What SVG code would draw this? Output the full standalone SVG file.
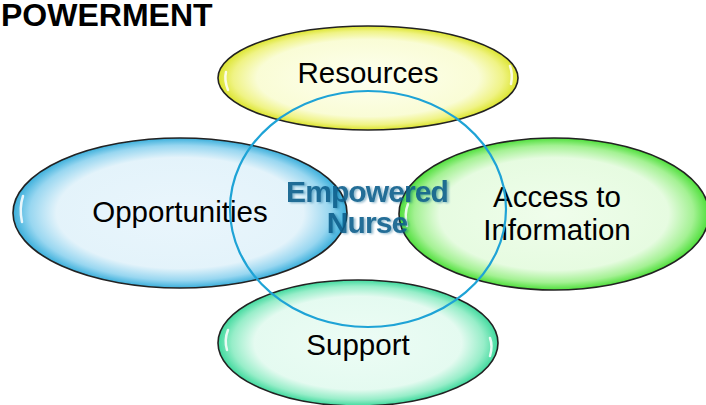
<svg xmlns="http://www.w3.org/2000/svg" width="706" height="405" viewBox="0 0 706 405">
  <style>
    .title { font-family: "Liberation Sans", Arial, sans-serif; font-weight: bold; font-size: 32px; fill: #000; }
    .label { font-family: "Liberation Sans", Arial, sans-serif; font-size: 29.5px; fill: #000; text-anchor: middle; }
    .core { font-family: "Liberation Sans", Arial, sans-serif; font-weight: bold; font-size: 30px; fill: #0b5e8c; text-anchor: middle; letter-spacing: -0.9px; }
    .oval { stroke: #222; stroke-width: 1.6; fill-opacity: 0.92; }
    .gloss { fill: none; stroke: #ffffff; stroke-width: 2.5; stroke-linecap: round; opacity: 0.85; }
    .ring { fill: none; stroke: #1ea3d6; stroke-width: 2.2; }
  </style>
  <defs>
    <radialGradient id="gYellow" cx="50%" cy="50%" r="50%">
      <stop offset="0" stop-color="#fdfff0"/>
      <stop offset="0.74" stop-color="#f9fcd2"/>
      <stop offset="0.9" stop-color="#eef27a"/>
      <stop offset="1" stop-color="#d9e21c"/>
    </radialGradient>
    <radialGradient id="gBlue" cx="50%" cy="50%" r="50%">
      <stop offset="0" stop-color="#e8f5fc"/>
      <stop offset="0.74" stop-color="#e1f2fa"/>
      <stop offset="0.9" stop-color="#8fd3ef"/>
      <stop offset="1" stop-color="#2aa8d8"/>
    </radialGradient>
    <radialGradient id="gGreen" cx="50%" cy="50%" r="50%">
      <stop offset="0" stop-color="#eefdea"/>
      <stop offset="0.74" stop-color="#e4fbde"/>
      <stop offset="0.9" stop-color="#9cf08a"/>
      <stop offset="1" stop-color="#3fdc2a"/>
    </radialGradient>
    <radialGradient id="gTeal" cx="50%" cy="50%" r="50%">
      <stop offset="0" stop-color="#ebfcf4"/>
      <stop offset="0.74" stop-color="#e2faef"/>
      <stop offset="0.9" stop-color="#8eecc4"/>
      <stop offset="1" stop-color="#2fd695"/>
    </radialGradient>
    <filter id="soft" x="-10%" y="-20%" width="120%" height="140%">
      <feGaussianBlur in="SourceAlpha" stdDeviation="0.8"/>
      <feOffset dx="1.5" dy="1" result="sh"/>
      <feFlood flood-color="#0b5e8c" flood-opacity="0.45"/>
      <feComposite in2="sh" operator="in"/>
      <feMerge><feMergeNode/><feMergeNode in="SourceGraphic"/></feMerge>
    </filter>
  </defs>

  <text class="title" x="1" y="26">POWERMENT</text>

  <g id="resources">
    <ellipse class="oval" cx="368" cy="78" rx="150" ry="52" fill="url(#gYellow)"/>
    <path class="gloss" d="M226 72 Q224 80 228 90"/>
    <path class="gloss" d="M510 66 Q513 74 511 84"/>
    <text class="label" x="368" y="83">Resources</text>
  </g>

  <g id="opportunities">
    <ellipse class="oval" cx="180" cy="213" rx="167" ry="75" fill="url(#gBlue)"/>
    <path class="gloss" d="M23 196 Q19 208 22 222"/>
    <text class="label" x="180" y="222">Opportunities</text>
  </g>

  <g id="access-to-information">
    <ellipse class="oval" cx="554" cy="214" rx="155" ry="76" fill="url(#gGreen)"/>
    <path class="gloss" d="M408 204 Q404 214 407 226"/>
    <text class="label" x="557" y="207">Access to</text>
    <text class="label" x="557" y="240">Information</text>
  </g>

  <g id="support">
    <ellipse class="oval" cx="358" cy="343" rx="140" ry="63" fill="url(#gTeal)"/>
    <path class="gloss" d="M228 330 Q224 340 227 350"/>
    <path class="gloss" d="M490 338 Q493 346 490 356"/>
    <text class="label" x="358" y="355">Support</text>
  </g>

  <!-- centre label, lightly tinted by the ovals it overlaps -->
  <g id="empowered-nurse" filter="url(#soft)" opacity="0.9">
    <text class="core" x="367" y="202">Empowered</text>
    <text class="core" x="367" y="233">Nurse</text>
  </g>

  <g id="connectors">
    <ellipse class="ring" cx="368" cy="209" rx="138" ry="118"/>
  </g>
</svg>
